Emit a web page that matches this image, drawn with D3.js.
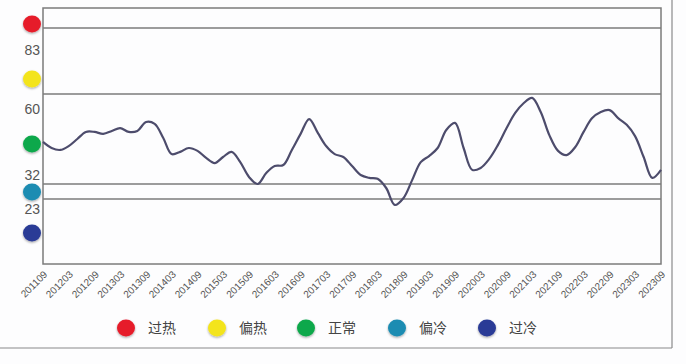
<!DOCTYPE html>
<html>
<head>
<meta charset="utf-8">
<script src="https://cdn.jsdelivr.net/npm/d3@7"></script>
<style>
  html, body { margin: 0; padding: 0; background: #fdfdfe; }
  svg { display: block; }
</style>
</head>
<body>
<svg id="chart" width="686" height="364"></svg>
<script>
// ---------- data ----------
const months = [
  "201109","201111",
  "201201","201203","201205","201207","201209","201211",
  "201301","201303","201305","201307","201309","201311",
  "201401","201403","201405","201407","201409","201411",
  "201501","201503","201505","201507","201509","201511",
  "201601","201603","201605","201607","201609","201611",
  "201701","201703","201705","201707","201709","201711",
  "201801","201803","201805","201807","201809","201811",
  "201901","201903","201905","201907","201909","201911",
  "202001","202003","202005","202007","202009","202011",
  "202101","202103","202105","202107","202109","202111",
  "202201","202203","202205","202207","202209","202211",
  "202301","202303","202305","202307","202309"
];
const values = [
  45.1, 43.2,
  42.6, 43.8, 46.0, 48.2, 48.2, 47.6,
  48.5, 49.4, 48.2, 48.5, 51.3, 50.7,
  46.3, 41.3, 42.0, 43.2, 42.3, 40.1,
  38.5, 40.4, 42.0, 38.8, 34.2, 32.0,
  35.4, 37.6, 37.9, 42.6, 47.6, 52.2,
  47.9, 43.8, 41.3, 40.4, 37.6, 34.8,
  33.9, 33.6, 29.6, 20.9, 23.6, 33.2,
  38.8, 40.7, 43.2, 48.8, 51.0, 43.2,
  36.4, 37.0, 39.8, 44.1, 49.4, 54.1,
  57.2, 58.8, 54.4, 47.2, 42.3, 41.0,
  43.5, 48.2, 52.5, 54.4, 55.0, 52.5,
  50.4, 46.9, 40.4, 33.9, 36.4
];
const tickLabels = [
  "201109","201203","201209","201303","201309","201403","201409",
  "201503","201509","201603","201609","201703","201709","201803",
  "201809","201903","201909","202003","202009","202103","202109",
  "202203","202209","202303","202309"
];
const thresholds = [83, 60, 32, 23];
const levelNames = ["过热", "偏热", "正常", "偏冷", "过冷"];
const levelColors = ["#e61e2b", "#f3e41c", "#10a84b", "#1b8cb2", "#293a96"];

// ---------- layout ----------
const svg = d3.select("#chart");
const plot = { left: 43, right: 661, top: 8, bottom: 264 };
const parse = d3.timeParse("%Y%m");

const x = d3.scaleTime()
  .domain([parse(months[0]), parse(months[months.length - 1])])
  .range([plot.left, plot.right]);

// piecewise (non-uniform) vertical scale matching the original's zone bands
const y = d3.scaleLinear()
  .domain([0, 23, 32, 60, 83, 100])
  .range([plot.bottom, 199, 184, 94, 28, plot.top]);

const grey = "#7b7b7b";

// outer frame (right + bottom)
svg.append("line").attr("x1", 672).attr("x2", 672).attr("y1", 0).attr("y2", 348)
  .attr("stroke", "#8a8a8a").attr("stroke-width", 1.2);
svg.append("line").attr("x1", 0).attr("x2", 672).attr("y1", 348).attr("y2", 348)
  .attr("stroke", "#8a8a8a").attr("stroke-width", 1.2);

// plot frame
svg.append("rect")
  .attr("x", plot.left).attr("y", plot.top)
  .attr("width", plot.right - plot.left).attr("height", plot.bottom - plot.top)
  .attr("fill", "none").attr("stroke", grey).attr("stroke-width", 1.5);

// threshold lines
svg.selectAll("line.th").data(thresholds).join("line")
  .attr("class", "th")
  .attr("x1", plot.left).attr("x2", plot.right)
  .attr("y1", d => y(d)).attr("y2", d => y(d))
  .attr("stroke", grey).attr("stroke-width", 1.5);

// threshold labels
const labelOffsets = [22, 15, -9, 10];
svg.selectAll("text.th").data(thresholds).join("text")
  .attr("class", "th")
  .attr("x", 40)
  .attr("y", (d, i) => y(d) + labelOffsets[i])
  .attr("dy", "0.35em")
  .attr("text-anchor", "end")
  .attr("font-family", "Liberation Sans, Arial, sans-serif")
  .attr("font-size", 14)
  .attr("fill", "#555")
  .text(d => d);

// shadow filter for dots
const defs = svg.append("defs");
const f = defs.append("filter").attr("id", "sh").attr("x", "-50%").attr("y", "-50%").attr("width", "200%").attr("height", "200%");
f.append("feDropShadow").attr("dx", 0).attr("dy", 1.2).attr("stdDeviation", 0.8)
  .attr("flood-color", "#000").attr("flood-opacity", 0.35);

// zone dots along the y axis
const zoneDotY = [24, 79, 144, 192, 233];
svg.selectAll("ellipse.zone").data(levelColors).join("ellipse")
  .attr("class", "zone")
  .attr("cx", 32).attr("cy", (d, i) => zoneDotY[i])
  .attr("rx", 9).attr("ry", 8.5)
  .attr("fill", d => d)
  .attr("filter", "url(#sh)");

// x tick labels
svg.selectAll("text.xt").data(tickLabels).join("text")
  .attr("class", "xt")
  .attr("transform", d => `translate(${x(parse(d)) + 5},${plot.bottom + 11}) rotate(-45)`)
  .attr("text-anchor", "end")
  .attr("font-family", "Liberation Sans, Arial, sans-serif")
  .attr("font-size", 10)
  .attr("fill", "#555")
  .text(d => d);

// the line
const line = d3.line()
  .x((d, i) => x(parse(months[i])))
  .y(d => y(d))
  .curve(d3.curveCatmullRom.alpha(0.5));
svg.append("path")
  .datum(values)
  .attr("d", line)
  .attr("fill", "none")
  .attr("stroke", "#4d4c6c")
  .attr("stroke-width", 2.2);

// legend
const legendX = [126, 217, 306, 397, 487];
const lg = svg.selectAll("g.lg").data(levelNames).join("g")
  .attr("class", "lg")
  .attr("transform", (d, i) => `translate(${legendX[i]},328)`);
lg.append("ellipse").attr("rx", 9).attr("ry", 8.5)
  .attr("fill", (d, i) => levelColors[i]).attr("filter", "url(#sh)");
lg.append("text").attr("x", 22).attr("dy", "0.35em")
  .attr("font-family", "Noto Sans CJK SC, sans-serif")
  .attr("font-size", 14).attr("fill", "#444")
  .text(d => d);
</script>
</body>
</html>
